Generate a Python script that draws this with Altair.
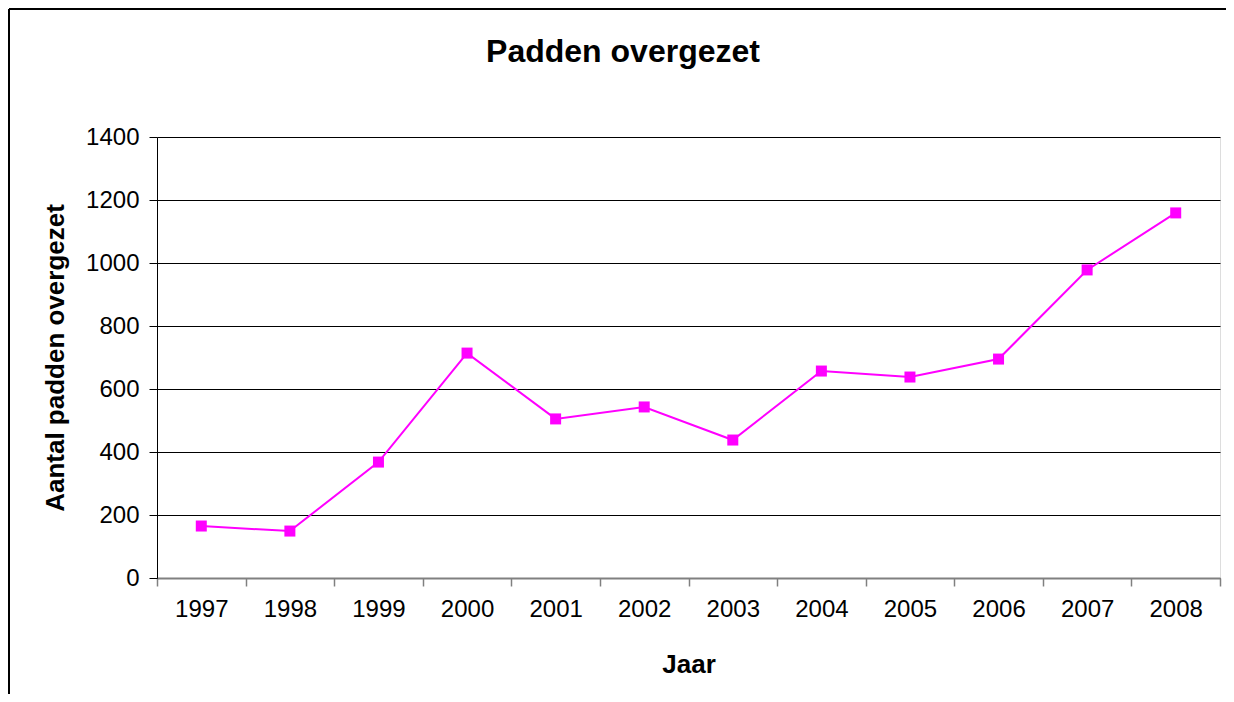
import altair as alt
import pandas as pd

years = ["1997", "1998", "1999", "2000", "2001", "2002", "2003", "2004", "2005", "2006", "2007", "2008"]
counts = [165, 149, 368, 714, 505, 543, 438, 657, 638, 695, 978, 1159]
y_ticks = [0, 200, 400, 600, 800, 1000, 1200, 1400]
title_text = ["Padden overgezet"]

df = pd.DataFrame({"Jaar": years, "Aantal": counts})
one = pd.DataFrame({"t": title_text})

W, H = 1063, 441
PL, PT, PR, PB = 149, 129, 6, 116

FONT = "Liberation Sans"

x_enc = alt.X(
    "Jaar:O",
    sort=years,
    bandPosition=0.5,
    scale=alt.Scale(type="band", paddingInner=0, paddingOuter=0),
    axis=alt.Axis(
        title="Jaar",
        labelAngle=0,
        tickBand="extent",
        grid=False,
        domainColor="#808080",
        domainWidth=2,
        tickColor="#808080",
        tickWidth=1.5,
        tickSize=8,
        labelPadding=11,
        labelFontSize=24,
        labelColor="black",
        labelFont=FONT,
        titleFont=FONT,
        titleFontSize=26,
        titleFontWeight="bold",
        titleColor="black",
        titleBaseline="alphabetic",
        titleY=94,
    ),
)
y_enc = alt.Y(
    "Aantal:Q",
    scale=alt.Scale(domain=[0, 1400], nice=False),
    axis=alt.Axis(
        title="Aantal padden overgezet",
        values=y_ticks,
        format="d",
        grid=True,
        gridColor="black",
        gridWidth=1,
        domainColor="black",
        domainWidth=1,
        tickColor="black",
        tickSize=8,
        labelPadding=10,
        labelFontSize=24,
        labelColor="black",
        labelFont=FONT,
        titleFont=FONT,
        titleFontSize=26,
        titleFontWeight="bold",
        titleColor="black",
        titleBaseline="alphabetic",
        titleX=-94,
    ),
)

line = alt.Chart(df).mark_line(color="#FF00FF", strokeWidth=2).encode(x=x_enc, y=y_enc)
points = alt.Chart(df).mark_point(
    shape="square", filled=True, color="#FF00FF", size=121, opacity=1
).encode(x=x_enc, y=y_enc)

frame_top = alt.Chart(one).mark_rule(color="black", strokeWidth=2).encode(
    x=alt.value(-148), x2=alt.value(W + PR), y=alt.value(-128), y2=alt.value(-128)
)
frame_left = alt.Chart(one).mark_rule(color="black", strokeWidth=2).encode(
    x=alt.value(-148), x2=alt.value(-148), y=alt.value(-128), y2=alt.value(H + PB)
)
title = alt.Chart(one).mark_text(
    font=FONT, fontSize=32, fontWeight="bold", color="black",
    align="center", baseline="alphabetic",
).encode(
    x=alt.value(623 - 157), y=alt.value(62 - 137), text="t:N"
)

chart = (
    alt.layer(line, points, frame_top, frame_left, title)
    .properties(
        width=W,
        height=H,
        autosize=alt.AutoSizeParams(type="none"),
        padding={"left": PL, "top": PT, "right": PR, "bottom": PB},
    )
    .configure_view(stroke=None)
    .configure(background="white")
)

chart.save("out.html", embed_options={"renderer": "svg", "actions": False})
